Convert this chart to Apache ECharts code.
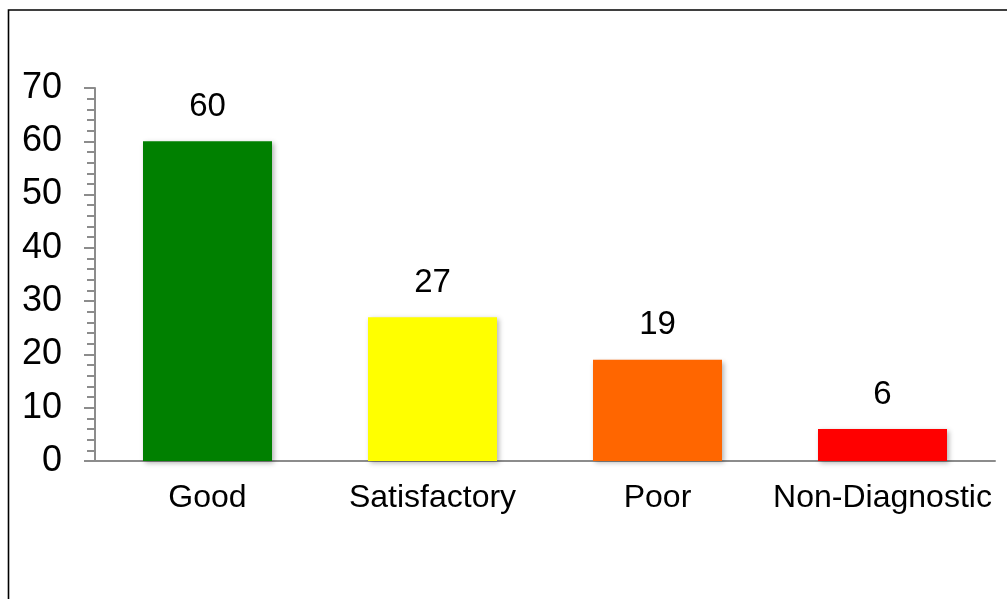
<!DOCTYPE html>
<html>
<head>
<meta charset="utf-8">
<script src="https://cdn.jsdelivr.net/npm/echarts@6/dist/echarts.min.js"></script>
<style>
  html, body { margin: 0; padding: 0; background: #fff; }
  #chart { width: 1007px; height: 599px; }
</style>
</head>
<body>
<div id="chart"></div>
<script>
// data
const categories = ['Good', 'Satisfactory', 'Poor', 'Non-Diagnostic']
const counts = [60, 27, 19, 6]
const barColors = ['#008000', '#FFFF00', '#FF6600', '#FF0000']
const yTicks = [0, 10, 20, 30, 40, 50, 60, 70]

const font = "'Liberation Sans', Arial, sans-serif"

const chart = echarts.init(document.getElementById('chart'))

chart.setOption({
  animation: false,
  backgroundColor: '#fff',
  graphic: [
    {
      type: 'rect',
      shape: { x: 8.5, y: 10, width: 1100, height: 700 },
      style: { fill: 'none', stroke: '#000', lineWidth: 1.6 },
      z: 100
    }
  ],
  grid: { left: 95, right: 12, top: 88, bottom: 138, containLabel: false },
  xAxis: {
    type: 'category',
    data: categories,
    axisLine: { show: true, lineStyle: { color: '#8c8c8c', width: 2 } },
    axisTick: { show: false },
    axisLabel: {
      interval: 0,
      color: '#000',
      fontFamily: font,
      fontSize: 32,
      margin: 21
    },
    splitLine: { show: false }
  },
  yAxis: {
    type: 'value',
    min: yTicks[0],
    max: yTicks[yTicks.length - 1],
    interval: 10,
    axisLine: { show: true, lineStyle: { color: '#8c8c8c', width: 2 } },
    axisTick: { show: true, length: 11, lineStyle: { color: '#8c8c8c', width: 2 } },
    minorTick: { show: true, splitNumber: 5, length: 8, lineStyle: { color: '#8c8c8c', width: 2 } },
    axisLabel: {
      color: '#000',
      fontFamily: font,
      fontSize: 36,
      margin: 33
    },
    splitLine: { show: false }
  },
  series: [
    {
      type: 'bar',
      barWidth: 129,
      data: counts.map((v, i) => ({
        value: v,
        itemStyle: {
          color: barColors[i],
          shadowColor: 'rgba(0,0,0,0.3)',
          shadowBlur: 5,
          shadowOffsetX: 2,
          shadowOffsetY: 2
        }
      })),
      label: {
        show: true,
        position: 'top',
        distance: 18,
        color: '#000',
        fontFamily: font,
        fontSize: 33
      }
    }
  ]
})
</script>
</body>
</html>
